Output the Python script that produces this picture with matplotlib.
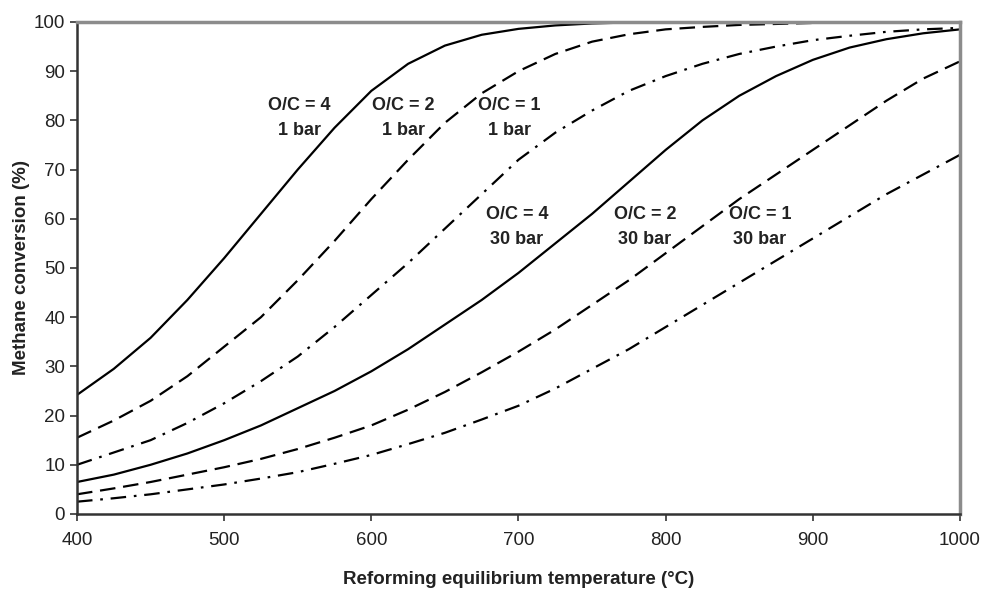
import numpy as np
import matplotlib
matplotlib.use('agg')
import matplotlib.pyplot as plt

plt.rcParams['font.family'] = ['Liberation Sans', 'DejaVu Sans']

# reforming temperature (degC)
temp = [400, 425, 450, 475, 500, 525, 550, 575, 600, 625, 650, 675, 700,
        725, 750, 775, 800, 825, 850, 875, 900, 925, 950, 975, 1000]

# methane conversion (%) at 1 bar
oc4_1bar = [24.2, 29.5, 35.8, 43.5, 52, 61, 70, 78.5, 86, 91.5, 95.2, 97.4, 98.6,
            99.3, 99.7, 99.9, 100, 100, 100, 100, 100, 100, 100, 100, 100]
oc2_1bar = [15.5, 19, 23, 28, 34, 40, 47.5, 55.5, 64, 72, 79.5, 85.5, 90,
            93.5, 96, 97.5, 98.5, 99, 99.4, 99.6, 99.8, 99.9, 100, 100, 100]
oc1_1bar = [10, 12.5, 15, 18.5, 22.5, 27, 32, 38, 44.5, 51, 58, 65, 72,
            77.5, 82, 86, 89, 91.5, 93.5, 95, 96.3, 97.2, 98, 98.5, 98.8]

# methane conversion (%) at 30 bar
oc4_30bar = [6.5, 8, 10, 12.3, 15, 18, 21.5, 25, 29, 33.5, 38.5, 43.5, 49,
             55, 61, 67.5, 74, 80, 85, 89, 92.3, 94.8, 96.5, 97.7, 98.5]
oc2_30bar = [4, 5.2, 6.5, 8, 9.5, 11.2, 13.2, 15.5, 18, 21.2, 24.8, 28.8, 33,
             37.5, 42.5, 47.5, 53, 58.5, 64, 69, 74, 79, 84, 88.5, 92]
oc1_30bar = [2.5, 3.2, 4, 5, 6, 7.2, 8.5, 10.2, 12, 14.2, 16.5, 19.2, 22,
             25.5, 29.5, 33.5, 38, 42.5, 47, 51.5, 56, 60.5, 65, 69, 73]

dash = (0, (7, 3.5))
dashdot = (0, (7, 3.5, 1.2, 3.5))

fig = plt.figure(figsize=(9.82, 5.94), dpi=100)
ax = fig.add_axes([0.0784, 0.1347, 0.8992, 0.8283])

lw = 1.6
ax.plot(temp, oc4_1bar, color='k', lw=lw, ls='-')
ax.plot(temp, oc2_1bar, color='k', lw=lw, ls=dash)
ax.plot(temp, oc1_1bar, color='k', lw=lw, ls=dashdot)
ax.plot(temp, oc4_30bar, color='k', lw=lw, ls='-')
ax.plot(temp, oc2_30bar, color='k', lw=lw, ls=dash)
ax.plot(temp, oc1_30bar, color='k', lw=lw, ls=dashdot)

# curve labels
labels = [
    (551, 80.5, 'O/C = 4\n1 bar'),
    (622, 80.5, 'O/C = 2\n1 bar'),
    (694, 80.5, 'O/C = 1\n1 bar'),
    (699, 58.3, 'O/C = 4\n30 bar'),
    (786, 58.3, 'O/C = 2\n30 bar'),
    (864, 58.3, 'O/C = 1\n30 bar'),
]
for x, y, s in labels:
    ax.text(x, y, s, ha='center', va='center', fontsize=13,
            fontweight='bold', color='#222222', linespacing=1.65)

ax.set_xlim(400, 1000)
ax.set_ylim(0, 100)
ax.set_xticks(np.arange(400, 1001, 100))
ax.set_yticks(np.arange(0, 101, 10))
ax.tick_params(direction='out', length=5, width=1.2, labelsize=13.5,
               colors='#333333', labelcolor='#222222')
ax.tick_params(axis='x', pad=8)

ax.spines['left'].set_color('#333333')
ax.spines['bottom'].set_color('#333333')
ax.spines['left'].set_linewidth(1.8)
ax.spines['bottom'].set_linewidth(1.8)
ax.spines['top'].set_color('#8c8c8c')
ax.spines['right'].set_color('#8c8c8c')
ax.spines['top'].set_linewidth(2.5)
ax.spines['right'].set_linewidth(2.5)

ax.set_xlabel('Reforming equilibrium temperature (°C)', fontsize=13.5,
              fontweight='bold', color='#222222', labelpad=16)
ax.set_ylabel('Methane conversion (%)', fontsize=13.5,
              fontweight='bold', color='#222222', labelpad=3)

fig.savefig('out.png', dpi=100)
